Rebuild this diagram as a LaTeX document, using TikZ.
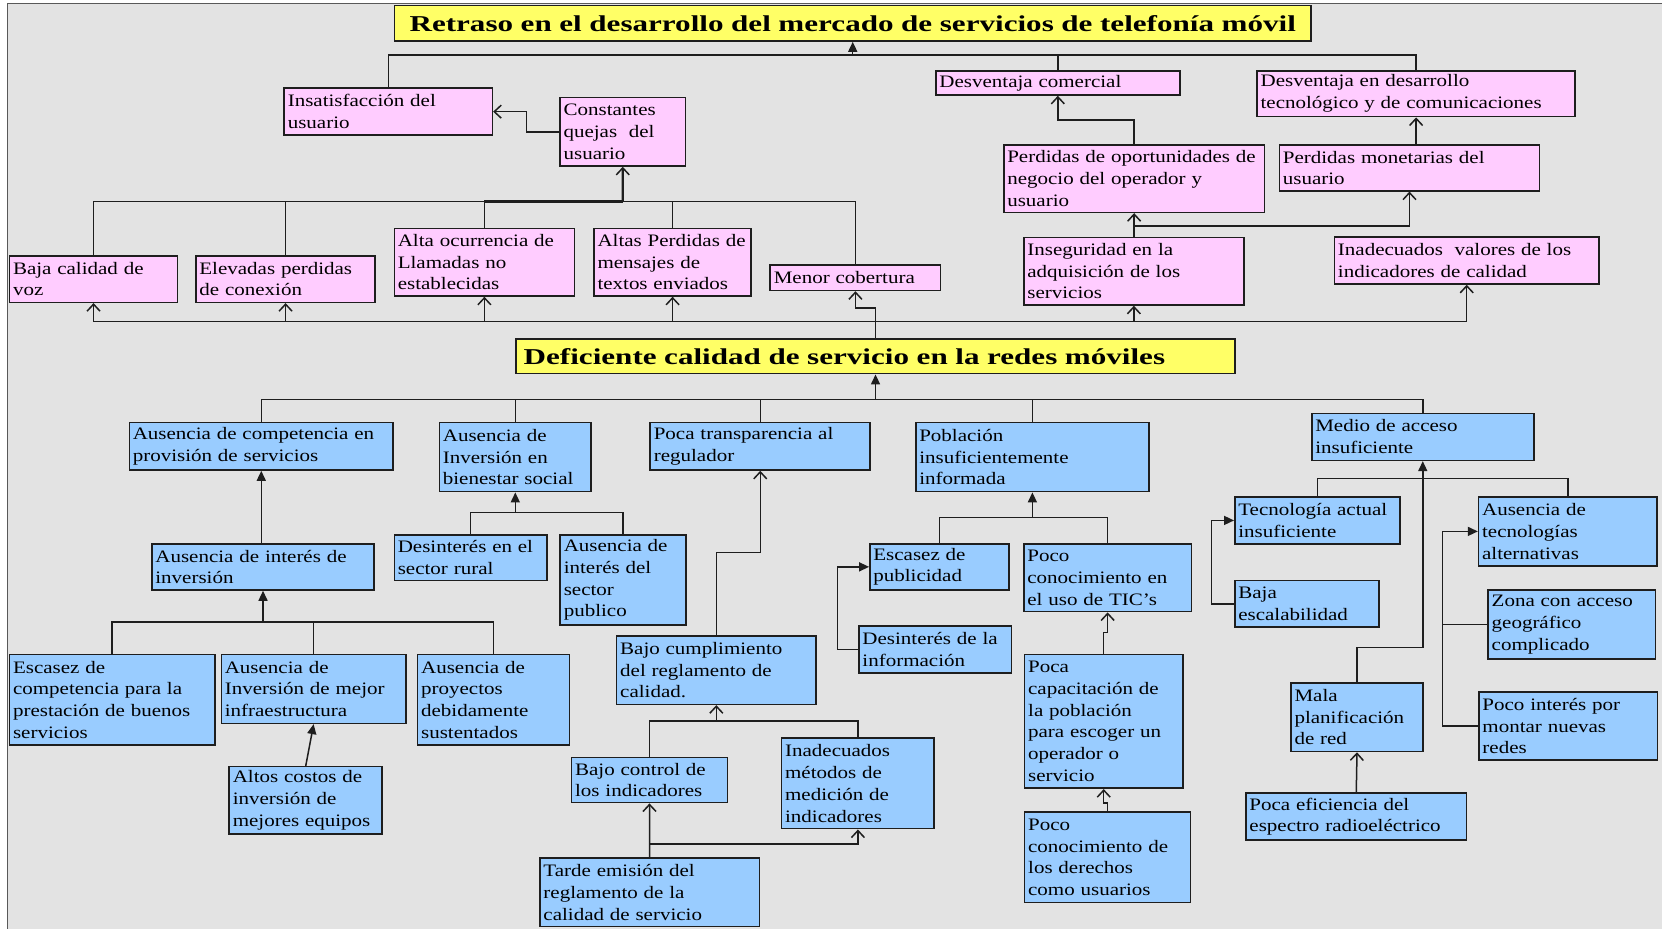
\documentclass[tikz,border=0pt]{standalone}
\usepackage{fontspec}
\setmainfont{Liberation Serif}[FakeStretch=1.2]
\newfontfamily\titlefont{Liberation Serif}[FakeStretch=1.37]
\usetikzlibrary{arrows.meta,calc}
\definecolor{pinkf}{HTML}{FFCCFF}
\definecolor{bluef}{HTML}{99CCFF}
\definecolor{yelf}{HTML}{FFFF66}
\definecolor{bgg}{HTML}{E3E3E3}
\definecolor{ink}{HTML}{1E1E1E}
\tikzset{
  box/.style={draw=ink, line width=1.6pt, inner xsep=3.5pt, inner ysep=1pt, align=left,
    font={\fontsize{17.5}{21.7}\selectfont}, anchor=center},
  pbox/.style={box, fill=pinkf},
  bbox/.style={box, fill=bluef},
  tbox/.style={box, fill=yelf, font={\titlefont\bfseries\fontsize{22.7}{26}\selectfont}},
  ln/.style={draw=ink, line width=1.5pt},
  oarr/.style={ln, -{Straight Barb[length=7pt,width=13pt,line width=1.5pt]}},
  farr/.style={ln, -{Triangle[length=10pt,width=9pt]}},
}
\newcommand\bx[7]{%
  \pgfmathsetmacro\boxW{(#5-#3)*1.06}%
  \pgfmathsetmacro\boxH{(#6-#4)*1.06}%
  \pgfmathsetmacro\boxT{(#5-#3)*1.06-7}%
  \node[#2, minimum width=\boxW pt, minimum height=\boxH pt, text width=\boxT pt] (#1) at ({(#3+#5)/2},{(#4+#6)/2}) {#7};}
\begin{document}
\begin{tikzpicture}[x=1.06pt,y=-1.06pt]
\useasboundingbox (0,0) rectangle (1568,876);
\fill[white] (0,0) rectangle (1568,876);
\fill[bgg] (7,3.5) rectangle (1568,876);
\draw[black!65, line width=1pt] (7,876) -- (7,3.5) -- (1568,3.5);

% ---------- top section ----------
\bx{tA}{tbox,align=center}{372}{5.3}{1237}{38.7}{Retraso en el desarrollo del mercado de servicios de telefonía móvil}
\bx{ins}{pbox}{268.2}{83.3}{464.5}{127.4}{Insatisfacción del\\usuario}
\bx{cq}{pbox}{528.4}{92.1}{646.7}{156.6}{Constantes\\quejas \ del\\usuario}
\bx{dc}{pbox}{883}{66.7}{1113}{89.6}{Desventaja comercial}
\bx{dd}{pbox}{1186}{66.7}{1486}{110}{Desventaja en desarrollo\\tecnológico y de comunicaciones}
\bx{po}{pbox}{947}{136.8}{1193}{200.3}{Perdidas de oportunidades de\\negocio del operador y\\usuario}
\bx{pm}{pbox}{1207}{136.8}{1452.5}{180}{Perdidas monetarias del\\usuario}
\bx{bcv}{pbox}{9}{241.5}{167.5}{285.2}{Baja calidad de\\voz}
\bx{epc}{pbox}{184.8}{241.5}{354}{285.2}{Elevadas perdidas\\de conexión}
\bx{ao}{pbox}{372}{215.7}{542}{279.2}{Alta ocurrencia de\\Llamadas no\\establecidas}
\bx{apm}{pbox}{560.4}{215.7}{708.7}{279.2}{Altas Perdidas de\\mensajes de\\textos enviados}
\bx{mc}{pbox}{726.7}{250}{887.4}{274}{Menor cobertura}
\bx{ins2}{pbox}{966}{224.2}{1173.5}{287.7}{Inseguridad en la\\adquisición de los\\servicios}
\bx{iv}{pbox}{1259}{223.6}{1508.5}{267.9}{Inadecuados \ valores de los\\indicadores de calidad}
\bx{tB}{tbox}{487}{320}{1165}{352.5}{\hspace*{4pt}Deficiente calidad de servicio en la redes móviles}

% ---------- bottom section ----------
\bx{ac}{bbox}{122}{398.7}{371}{443.4}{Ausencia de competencia en\\provisión de servicios}
\bx{ai}{bbox}{414.5}{398.7}{557.8}{463.8}{Ausencia de\\Inversión en\\bienestar social}
\bx{pt}{bbox}{613.5}{398.7}{821}{443.4}{Poca transparencia al\\regulador}
\bx{pob}{bbox}{864}{398.7}{1084}{463.8}{Población\\insuficientemente\\informada}
\bx{ma}{bbox}{1237.6}{390}{1447}{434.3}{Medio de acceso\\insuficiente}
\bx{ain}{bbox}{143.3}{513.2}{353}{556.6}{Ausencia de interés de\\inversión}
\bx{dsr}{bbox}{372}{504.7}{516}{547.8}{Desinterés en el\\sector rural}
\bx{aisp}{bbox}{528.6}{504.7}{647}{589.6}{Ausencia de\\interés del\\sector\\publico}
\bx{ep}{bbox}{820.7}{513}{952}{556.6}{Escasez de\\publicidad}
\bx{tic}{bbox}{966}{513}{1124}{577}{Poco\\conocimiento en\\el uso de TIC’s}
\bx{ta}{bbox}{1165}{469}{1321}{513}{Tecnología actual\\insuficiente}
\bx{atec}{bbox}{1395}{469}{1563.5}{533.7}{Ausencia de\\tecnologías\\alternativas}
\bx{be}{bbox}{1165}{547.8}{1301}{591.8}{Baja\\escalabilidad}
\bx{zona}{bbox}{1404}{556.6}{1562}{621.7}{Zona con acceso\\geográfico\\complicado}
\bx{dinf}{bbox}{810.4}{590.6}{954.4}{635.2}{Desinterés de la\\información}
\bx{bcum}{bbox}{581.8}{600}{769.8}{664.5}{Bajo cumplimiento\\del reglamento de\\calidad.}
\bx{ec}{bbox}{9}{617.3}{202.8}{702.8}{Escasez de\\competencia para la\\prestación de buenos\\servicios}
\bx{aim}{bbox}{208.8}{617.3}{383}{682.4}{Ausencia de\\Inversión de mejor\\infraestructura}
\bx{apr}{bbox}{394}{617.3}{537.4}{702.8}{Ausencia de\\proyectos\\debidamente\\sustentados}
\bx{pcap}{bbox}{966.7}{617.3}{1115.9}{743.7}{Poca\\capacitación de\\la población\\para escoger un\\operador o\\servicio}
\bx{mala}{bbox}{1218}{644.3}{1342.5}{709}{Mala\\planificación\\de red}
\bx{pin}{bbox}{1395.3}{653}{1563.8}{717}{Poco interés por\\montar nuevas\\redes}
\bx{acos}{bbox}{216.3}{723.3}{360.6}{787.1}{Altos costos de\\inversión de\\mejores equipos}
\bx{bctl}{bbox}{539.3}{714.5}{686.2}{757.2}{Bajo control de\\los indicadores}
\bx{im}{bbox}{737.4}{696.5}{881.4}{781.8}{Inadecuados\\métodos de\\medición de\\indicadores}
\bx{pcd}{bbox}{966.7}{766.3}{1123.3}{851.6}{Poco\\conocimiento de\\los derechos\\como usuarios}
\bx{pe}{bbox}{1175.5}{748.4}{1383.6}{792.5}{Poca eficiencia del\\espectro radioeléctrico}
\bx{te}{bbox}{509.4}{809.7}{716.4}{874.2}{Tarde emisión del\\reglamento de la\\calidad de servicio}

% ---------- junctions ----------
\coordinate (j1) at (804.5,52);
\coordinate (j2) at (587.5,190);
\coordinate (j3) at (826,303.5);
\coordinate (j4) at (826,377);
\coordinate (j5) at (1070,213);
\coordinate (j6) at (248,587);
\coordinate (j7) at (486,483.6);
\coordinate (j8) at (675.8,521.4);
\coordinate (j9) at (675.8,680);
\coordinate (j10) at (612.9,796.2);
\coordinate (j11) at (974,488);
\coordinate (j12) at (1342,451.6);

% ---------- top connectors ----------
\draw[ln] (ins.north) |- (j1) -| (dd.north);
\draw[ln] (dc.north) -- (dc.north |- j1);
\draw[farr] (j1) -- (tA.south);
\draw[oarr] (cq.west) -- ++(-31,0) |- (ins.east);
\draw[ln] (bcv.north) |- (j2) -| (mc.north);
\draw[ln] (epc.north) -- (epc.north |- j2);
\draw[ln] (ao.north) -- (ao.north |- j2);
\draw[ln] (apm.north) -- (apm.north |- j2);
\draw[draw=ink, line width=2.4pt] (ao.north |- j2) -- (j2);
\draw[oarr, line width=2.2pt] (j2) -- (cq.south);
\draw[ln] (tB.north) -- (j3);
\draw[ln] (bcv.south |- j3) -- (iv.south |- j3);
\draw[oarr] (bcv.south |- j3) -- (bcv.south);
\draw[oarr] (epc.south |- j3) -- (epc.south);
\draw[oarr] (ao.south |- j3) -- (ao.south);
\draw[oarr] (apm.south |- j3) -- (apm.south);
\draw[oarr] (ins2.south |- j3) -- (ins2.south);
\draw[oarr] (iv.south |- j3) -- (iv.south);
\draw[oarr] (j3) -- ++(0,-13) -| (mc.south);
\draw[oarr] (po.south |- ins2.north) -- (po.south);
\draw[oarr] (j5) -| (pm.south);
\draw[oarr] (po.north) -- ++(0,-23) -| (dc.south);
\draw[oarr] (dd.south |- pm.north) -- (dd.south);

% ---------- bottom connectors ----------
\draw[ln] (ac.north) |- (j4) -| (ma.north);
\draw[ln] (ai.north) -- (ai.north |- j4);
\draw[ln] (pt.north) -- (pt.north |- j4);
\draw[ln] (pob.north) -- (pob.north |- j4);
\draw[farr] (j4) -- (tB.south);
\draw[farr] (ac.south |- ain.north) -- (ac.south);
\draw[ln] (ec.north) |- (j6) -| (apr.north);
\draw[ln] (aim.north) -- (aim.north |- j6);
\draw[farr] (ain.south |- j6) -- (ain.south);
\draw[farr] (acos.north) -- (aim.south);
\draw[ln] (dsr.north) |- (j7) -| (aisp.north);
\draw[farr] (ai.south |- j7) -- (ai.south);
\draw[oarr] (bcum.north) -- (j8) -| (pt.south);
\draw[ln] (bctl.north) |- (j9) -| (im.north);
\draw[oarr] (j9) -- (bcum.south);
\draw[oarr] (te.north) -- (bctl.south);
\draw[oarr] (j10) -| (im.south);
\draw[ln] (ep.north) |- (j11) -| (tic.north);
\draw[farr] (pob.south |- j11) -- (pob.south);
\draw[farr] (dinf.west) -- ++(-19.5,0) |- (ep.west);
\draw[oarr] (pcap.north) -- ++(0,-20) -| (tic.south);
\draw[oarr] (pcd.north) -- ++(0,-8) -| (pcap.south);
\draw[ln] (ta.north) |- (j12) -| (atec.north);
\draw[farr] (mala.north) -- ++(0,-32.7) -| (ma.south);
\draw[farr] (be.west) -- ++(-21.5,0) |- (ta.west);
\draw[farr] (pin.west) -- ++(-33.7,0) |- (atec.west);
\draw[ln] (zona.west) -- ++(-42.4,0);
\draw[oarr] (pe.north) -- (mala.south);
\end{tikzpicture}
\end{document}
